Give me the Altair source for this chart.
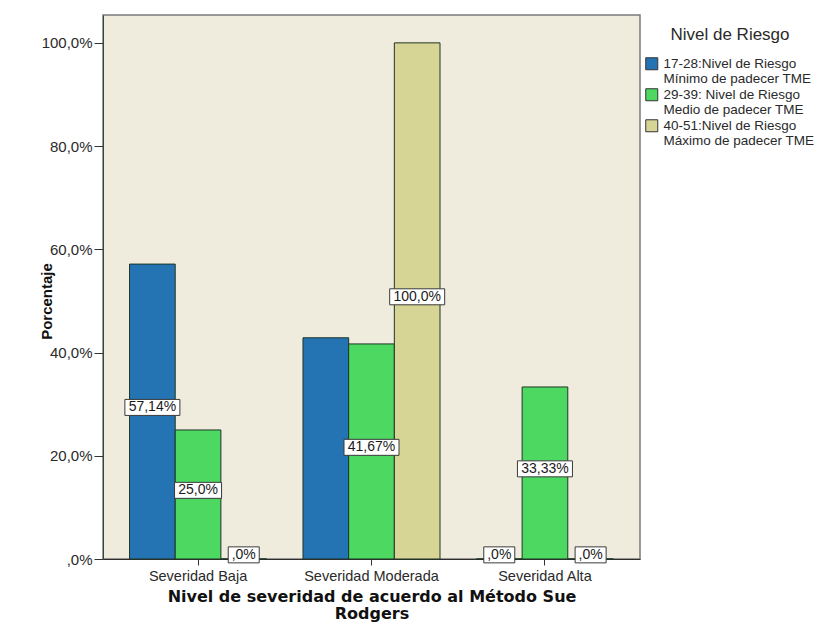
import altair as alt
import pandas as pd

categories = ["Severidad Baja", "Severidad Moderada", "Severidad Alta"]
series = [
    "17-28:Nivel de Riesgo\nMínimo de padecer TME",
    "29-39: Nivel de Riesgo\nMedio de padecer TME",
    "40-51:Nivel de Riesgo\nMáximo de padecer TME",
]
series_1 = [57.14, 42.86, 0.0]
series_2 = [25.0, 41.67, 33.33]
series_3 = [0.0, 100.0, 0.0]
labels_1 = ["57,14%", "", ",0%"]
labels_2 = ["25,0%", "41,67%", "33,33%"]
labels_3 = [",0%", "100,0%", ",0%"]
y_ticks = [0, 20, 40, 60, 80, 100]
colors = ["#2473b3", "#4cd861", "#d6d595"]

rows = []
for s, vals, labs in zip(series, [series_1, series_2, series_3], [labels_1, labels_2, labels_3]):
    for c, v, l in zip(categories, vals, labs):
        rows.append({"cat": c, "serie": s, "value": v, "label": l})
df = pd.DataFrame(rows)

FONT = "Liberation Sans"

x_enc = alt.X(
    "cat:N",
    sort=categories,
    scale=alt.Scale(paddingInner=0.21, paddingOuter=0.153),
    axis=alt.Axis(
        title=["Nivel de severidad de acuerdo al Método Sue", "Rodgers"],
        labelAngle=0,
        labelFont=FONT,
        labelFontSize=14.5,
        labelColor="#2a2a2a",
        labelPadding=4,
        tickSize=6,
        tickColor="#333333",
        domainColor="#2f2f2f",
        titleFont="DejaVu Sans",
        titleFontSize=16,
        titleFontWeight="bold",
        titleColor="#111111",
        titlePadding=6,
        titleLineHeight=17,
    ),
)
xoff_enc = alt.XOffset("serie:N", sort=series, scale=alt.Scale(paddingInner=0, paddingOuter=0))

y_axis = alt.Axis(
    title="Porcentaje",
    values=y_ticks,
    labelExpr="datum.value == 0 ? ',0%' : replace(format(datum.value, '.1f'), '.', ',') + '%'",
    grid=False,
    labelFont=FONT,
    labelFontSize=15,
    labelColor="#2a2a2a",
    labelPadding=2,
    tickSize=9,
    tickColor="#333333",
    domainColor="#2f4a3a",
    titleFont=FONT,
    titleFontSize=15,
    titleFontWeight="bold",
    titleColor="#111111",
    titleX=-57,
    titleY=286,
    titleAngle=270,
    titleBaseline="middle",
    titleAlign="center",
)
y_scale = alt.Scale(domain=[0, 105.4], nice=False, zero=True)

base = alt.Chart(df)

bars = base.mark_bar(stroke="#1e3527", strokeWidth=1).encode(
    x=x_enc,
    xOffset=xoff_enc,
    y=alt.Y("value:Q", scale=y_scale, axis=y_axis),
    color=alt.Color(
        "serie:N",
        sort=series,
        scale=alt.Scale(domain=series, range=colors),
        legend=alt.Legend(
            title="Nivel de Riesgo",
            orient="none",
            legendX=542,
            legendY=12,
            labelExpr="split(datum.label, '\\n')",
            labelFont=FONT,
            labelFontSize=13.5,
            labelColor="#2a2a2a",
            labelBaseline="middle",
            labelOffset=5,
            symbolType="square",
            symbolSize=144,
            symbolStrokeColor="#333333",
            symbolStrokeWidth=1,
            rowPadding=0,
            titleFont=FONT,
            titleFontSize=17,
            titleFontWeight="normal",
            titleColor="#2a2a2a",
            titlePadding=13,
            titleAnchor="middle",
        ),
    ),
)

lab = base.transform_filter("datum.label != ''").transform_calculate(
    ly="datum.value / 2 + 0.8",
    hw="length(datum.label) * 0.4 + 0.35",
).transform_calculate(
    path="'M' + (-datum.hw) + ',-0.8L' + datum.hw + ',-0.8L' + datum.hw + ',0.8L' + (-datum.hw) + ',0.8Z'",
)

boxes = lab.mark_point(filled=True, fill="white", stroke="#3a3a3a", strokeWidth=1, opacity=1, size=400).encode(
    x=x_enc,
    xOffset=xoff_enc,
    y=alt.Y("ly:Q", scale=y_scale, axis=y_axis),
    shape=alt.Shape("path:N", scale=None, legend=None),
)

texts = lab.mark_text(font=FONT, fontSize=14, color="#1a1a1a").encode(
    x=x_enc,
    xOffset=xoff_enc,
    y=alt.Y("ly:Q", scale=y_scale, axis=y_axis),
    text="label:N",
)

chart = (
    alt.layer(bars, boxes, texts)
    .properties(
        width=537,
        height=544,
        autosize=alt.AutoSizeParams(type="none"),
        padding={"left": 95, "top": 7, "right": 175, "bottom": 66},
        background="white",
    )
    .configure_view(fill="#f0ecdd", stroke="#7a7a7a", strokeWidth=1.5)
)

chart.save("out.html", embed_options={"renderer": "svg", "actions": False})
